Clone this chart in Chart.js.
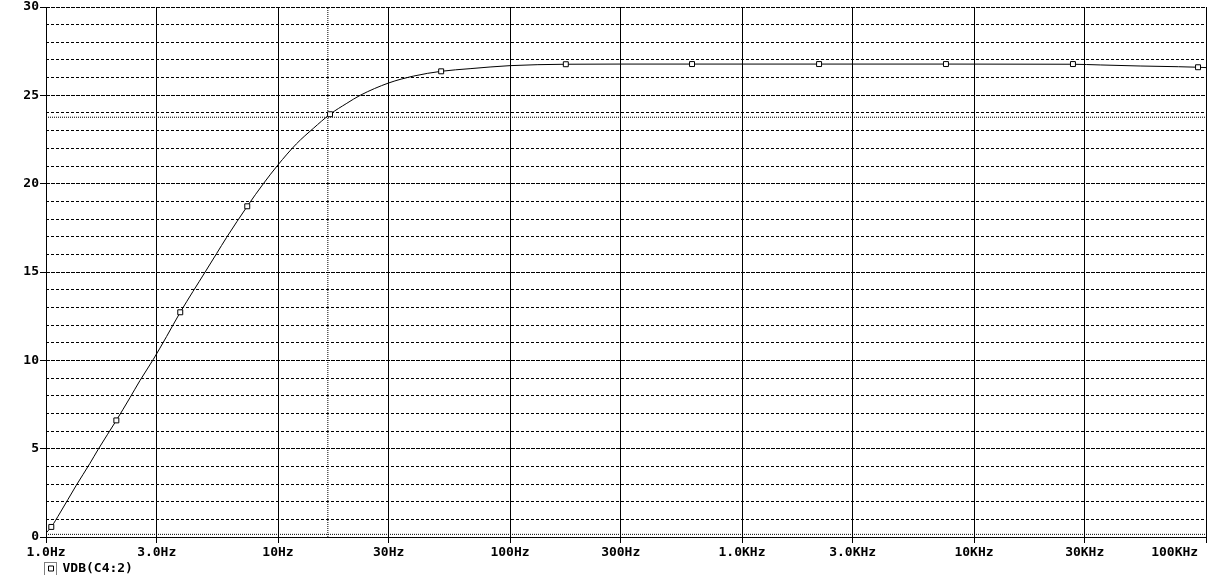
<!DOCTYPE html>
<html>
<head>
<meta charset="utf-8">
<script src="https://cdn.jsdelivr.net/npm/chart.js@4.4.0/dist/chart.umd.min.js"></script>
<style>
  html, body { margin: 0; padding: 0; background: #fff; }
  #wrap { width: 1213px; height: 575px; }
</style>
</head>
<body>
<div id="wrap"><canvas id="bode" width="1213" height="575"></canvas></div>
<script>
// x axis ticks (log, Hz)
const tickHz = [1, 3, 10, 30, 100, 300, 1000, 3000, 10000, 30000, 100000];
const tickText = ["1.0Hz", "3.0Hz", "10Hz", "30Hz", "100Hz", "300Hz", "1.0KHz", "3.0KHz", "10KHz", "30KHz", "100KHz"];

// VDB(C4:2) curve
const freqHz = [1, 1.054, 1.149, 1.347, 1.547, 1.68, 2.01, 2.3, 2.54, 2.9, 3.31, 3.79, 4.88, 5.44, 6.0, 7.37, 8.65, 9.98, 12.0, 14.2, 16.76, 19.8, 22.6, 30, 38.4, 50.5, 67.3, 100, 174, 300, 609, 1000, 2149, 7570, 26700, 35000, 52000, 76000, 92400, 100000];
const gainDb = [0.22, 0.57, 1.36, 2.9, 4.17, 4.97, 6.6, 7.88, 8.85, 10.05, 11.35, 12.72, 15.05, 16.05, 16.95, 18.72, 20.0, 21.05, 22.25, 23.13, 23.93, 24.55, 25.0, 25.7, 26.09, 26.36, 26.51, 26.68, 26.76, 26.77, 26.77, 26.77, 26.77, 26.77, 26.76, 26.72, 26.66, 26.62, 26.59, 26.57];

// trace markers (little squares)
const markerHz = [1.054, 2.01, 3.79, 7.37, 16.76, 50.5, 174, 609, 2149, 7570, 26700, 92400];
const markerDb = [0.57, 6.6, 12.72, 18.72, 23.93, 26.36, 26.76, 26.77, 26.77, 26.77, 26.77, 26.59];

// cursors
const cursorHz = [16.4];
const cursorDb = [23.76, 0.15];

const yMin = 0, yMax = 30;
const traceName = "VDB(C4:2)";
const monoFont = { family: "'DejaVu Sans Mono', monospace", size: 13, weight: "bold" };

const curvePts = freqHz.map((f, i) => ({ x: f, y: gainDb[i] }));
const markerPts = markerHz.map((f, i) => ({ x: f, y: markerDb[i] }));

const cursorSets = [];
cursorHz.forEach((f) => {
  cursorSets.push({
    data: [{ x: f, y: yMin }, { x: f, y: yMax }],
    borderColor: "#000",
    borderWidth: 1,
    borderDash: [1, 1],
    pointRadius: 0,
    order: 3,
  });
});
cursorDb.forEach((v) => {
  cursorSets.push({
    data: [{ x: tickHz[0], y: v }, { x: tickHz[tickHz.length - 1], y: v }],
    borderColor: "#000",
    borderWidth: 1,
    borderDash: [1, 1],
    pointRadius: 0,
    order: 3,
  });
});

// dotted frame round the legend symbol
const legendFrame = {
  id: "legendFrame",
  afterDraw(chart) {
    const box = chart.legend && chart.legend.legendHitBoxes[0];
    if (!box) return;
    const c = chart.ctx;
    c.save();
    c.strokeStyle = "#000";
    c.lineWidth = 1;
    c.setLineDash([1, 1]);
    c.strokeRect(box.left - 1.5, box.top + 0.5, 12, 13);
    c.restore();
  },
};

new Chart(document.getElementById("bode"), {
  type: "line",
  data: {
    datasets: [
      {
        label: traceName,
        data: markerPts,
        showLine: false,
        pointStyle: "rect",
        pointRadius: 3.5,
        pointBorderWidth: 1,
        pointBorderColor: "#000",
        pointBackgroundColor: "#fff",
        borderColor: "#000",
        backgroundColor: "#fff",
        order: 1,
      },
      {
        label: "curve",
        data: curvePts,
        borderColor: "#000",
        borderWidth: 1,
        pointRadius: 0,
        cubicInterpolationMode: "monotone",
        order: 2,
      },
      ...cursorSets,
    ],
  },
  options: {
    responsive: false,
    animation: false,
    events: [],
    layout: { padding: { left: 0, right: 7, top: 7, bottom: 0 } },
    plugins: {
      tooltip: { enabled: false },
      legend: {
        position: "bottom",
        align: "start",
        fullSize: false,
        maxHeight: 13,
        labels: {
          filter: (item) => item.text === traceName,
          usePointStyle: true,
          boxWidth: 10,
          boxHeight: 5,
          padding: 0,
          color: "#000",
          font: monoFont,
        },
      },
    },
    scales: {
      x: {
        type: "logarithmic",
        min: tickHz[0],
        max: tickHz[tickHz.length - 1],
        afterBuildTicks: (s) => {
          s.ticks = tickHz.map((v) => ({ value: v }));
        },
        afterFit: (s) => {
          s.height = 25;
          s.paddingLeft = 0;
          s.paddingRight = 0;
        },
        ticks: {
          autoSkip: false,
          minRotation: 0,
          maxRotation: 0,
          padding: 2,
          color: "#000",
          font: monoFont,
          callback: (v, i) =>
            i === tickText.length - 1 ? tickText[i] + " ".repeat(8) : tickText[i],
        },
        grid: {
          color: (ctx) => (ctx.tick && ctx.tick.value === tickHz[0] ? "rgba(0,0,0,0)" : "#000"),
          tickColor: "#000",
          tickLength: 6,
          lineWidth: 1,
        },
        border: { display: true, color: "#000", width: 1 },
      },
      y: {
        type: "linear",
        position: "left",
        min: yMin,
        max: yMax,
        afterFit: (s) => {
          s.width = 46;
          s.paddingTop = 0;
          s.paddingBottom = 0;
        },
        ticks: { stepSize: 5, padding: 1, color: "#000", font: monoFont },
        grid: { color: "#000", tickColor: "#000", tickLength: 6, lineWidth: 1, z: -1 },
        border: { display: true, color: "#000", width: 1, dash: [3, 2] },
      },
      yMinor: {
        type: "linear",
        position: "right",
        min: yMin,
        max: yMax,
        afterFit: (s) => {
          s.width = 0;
        },
        ticks: { stepSize: 1, display: false },
        grid: { color: "#000", lineWidth: 1, drawTicks: false, z: -2 },
        border: { display: false, dash: [3, 2] },
      },
    },
  },
  plugins: [legendFrame],
});
</script>
</body>
</html>
